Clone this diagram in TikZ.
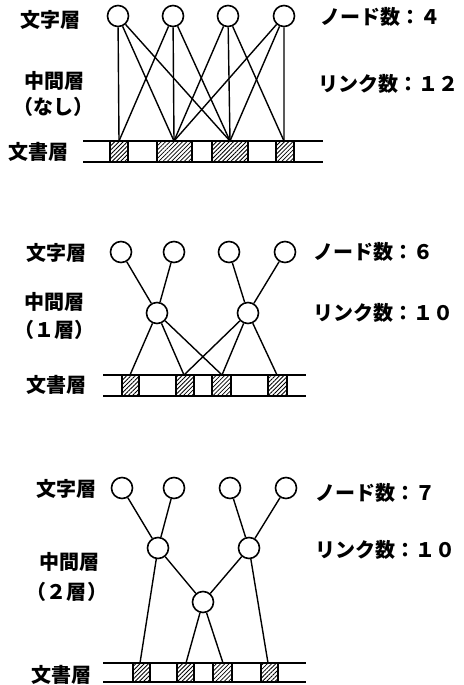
\documentclass[tikz,border=0pt]{standalone}
\usepackage{fontspec}
\newfontfamily\jp{Noto Sans CJK JP}
\usetikzlibrary{patterns.meta}
\tikzset{
  nd/.style={circle,draw,line width=1.6pt,minimum size=21pt,inner sep=0pt,fill=white},
  lbl/.style={font=\jp\bfseries\fontsize{20}{20}\selectfont,inner sep=0pt},
  lk/.style={line width=1.4pt},
  barline/.style={line width=1.5pt},
  blk/.style={draw,line width=1.4pt,pattern={Lines[angle=45,distance=3pt,line width=0.8pt]}}
}
\begin{document}
\begin{tikzpicture}[x=1pt,y=-1pt]
\useasboundingbox (0,0) rectangle (463,685);

% ---------------- Panel 1 ----------------
\node[lbl] (l1a) at (50,20) {文字層};
\node[lbl] (l1b) at (54,81) {中間層};
\node[lbl] (l1c) at (53,107) {（なし）};
\node[lbl] (l1d) at (39,152) {文書層};
\node[lbl,anchor=west] (r1a) at (320,17) {ノード数：４};
\node[lbl,anchor=west] (r1b) at (318,84) {リンク数：１２};

\draw[barline] (83,141) -- (323,141);
\draw[barline] (83,162) -- (323,162);
\draw[blk] (110,141) rectangle (128,162);
\draw[blk] (157,141) rectangle (192,162);
\draw[blk] (212,141) rectangle (248,162);
\draw[blk] (276,141) rectangle (294,162);

\node[nd] (a1) at (118,16) {};
\node[nd] (a2) at (173,16) {};
\node[nd] (a3) at (228,16) {};
\node[nd] (a4) at (284,16) {};
\coordinate (p1) at (119,141);
\coordinate (p2) at (174,141);
\coordinate (p3) at (230,141);
\coordinate (p4) at (284,141);
\draw[lk] (a1) -- (p1) (a1) -- (p2) (a1) -- (p3);
\draw[lk] (a2) -- (p1) (a2) -- (p2) (a2) -- (p3);
\draw[lk] (a3) -- (p2) (a3) -- (p3) (a3) -- (p4);
\draw[lk] (a4) -- (p2) (a4) -- (p3) (a4) -- (p4);

% ---------------- Panel 2 ----------------
\node[lbl] (l2a) at (57,253) {文字層};
\node[lbl] (l2b) at (54,302) {中間層};
\node[lbl] (l2c) at (54,330) {（１層）};
\node[lbl] (l2d) at (57,385) {文書層};
\node[lbl,anchor=west] (r2a) at (313,252) {ノード数：６};
\node[lbl,anchor=west] (r2b) at (313,313) {リンク数：１０};

\draw[barline] (103,375) -- (306,375);
\draw[barline] (103,396) -- (306,396);
\draw[blk] (122,375) rectangle (139,396);
\draw[blk] (176,375) rectangle (194,396);
\draw[blk] (212,375) rectangle (231,396);
\draw[blk] (268,375) rectangle (287,396);

\node[nd] (b1) at (121,252) {};
\node[nd] (b2) at (174,252) {};
\node[nd] (b3) at (229,252) {};
\node[nd] (b4) at (285,252) {};
\node[nd] (m1) at (157,313) {};
\node[nd] (m2) at (248,313) {};
\coordinate (q1) at (130,375);
\coordinate (q2) at (184,375);
\coordinate (q3) at (222,375);
\coordinate (q4) at (277,375);
\draw[lk] (b1) -- (m1) (b2) -- (m1) (b3) -- (m2) (b4) -- (m2);
\draw[lk] (m1) -- (q1) (m1) -- (q2) (m1) -- (q3);
\draw[lk] (m2) -- (q2) (m2) -- (q3) (m2) -- (q4);

% ---------------- Panel 3 ----------------
\node[lbl] (l3a) at (66,489) {文字層};
\node[lbl] (l3b) at (69,562) {中間層};
\node[lbl] (l3c) at (67,592) {（２層）};
\node[lbl] (l3d) at (61,675) {文書層};
\node[lbl,anchor=west] (r3a) at (315,493) {ノード数：７};
\node[lbl,anchor=west] (r3b) at (315,550) {リンク数：１０};

\draw[barline] (103,663) -- (306,663);
\draw[barline] (103,682) -- (306,682);
\draw[blk] (133,663) rectangle (150,682);
\draw[blk] (177,663) rectangle (194,682);
\draw[blk] (213,663) rectangle (232,682);
\draw[blk] (261,663) rectangle (278,682);

\node[nd] (c1) at (122,488) {};
\node[nd] (c2) at (174,488) {};
\node[nd] (c3) at (230,488) {};
\node[nd] (c4) at (286,488) {};
\node[nd] (n1) at (158,548) {};
\node[nd] (n2) at (249,548) {};
\node[nd] (n3) at (203,602) {};
\coordinate (s1) at (140,663);
\coordinate (s2) at (186,663);
\coordinate (s3) at (223,663);
\coordinate (s4) at (268,663);
\draw[lk] (c1) -- (n1) (c2) -- (n1) (c3) -- (n2) (c4) -- (n2);
\draw[lk] (n1) -- (s1) (n1) -- (n3) (n2) -- (n3) (n2) -- (s4);
\draw[lk] (n3) -- (s2) (n3) -- (s3);
\end{tikzpicture}
\end{document}
